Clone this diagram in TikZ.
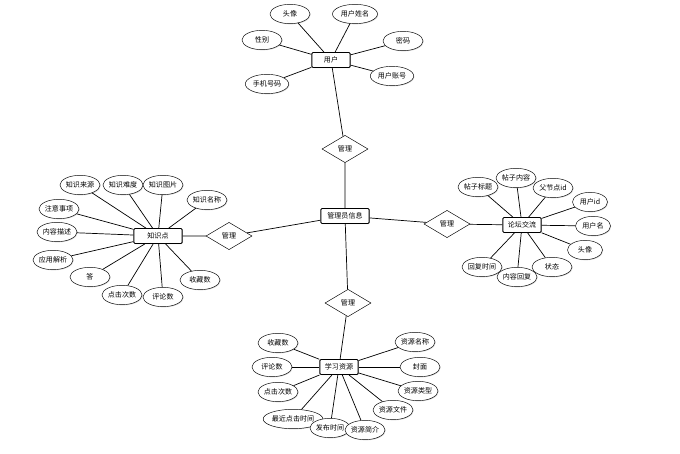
\documentclass[tikz,border=0pt]{standalone}
\usepackage{fontspec}
\newfontfamily\cjk{Noto Sans CJK SC}
\usetikzlibrary{shapes.geometric,shadows}

\begin{document}
\begin{tikzpicture}[x=0.03cm, y=-0.03cm,
    entity/.style={draw, thick, fill=white, rounded corners=1pt, minimum width=1.15cm, minimum height=0.45cm, inner sep=1pt, font=\cjk\fontsize{6}{7}\selectfont, drop shadow={shadow xshift=0.6pt, shadow yshift=-0.6pt, opacity=0.35}},
    attr/.style={draw, ellipse, fill=white, minimum width=1.2cm, minimum height=0.58cm, inner sep=0pt, font=\cjk\fontsize{6}{7}\selectfont, drop shadow={shadow xshift=0.6pt, shadow yshift=-0.6pt, opacity=0.3}},
    rel/.style={draw, diamond, aspect=1.7, fill=white, minimum width=1.38cm, minimum height=0.82cm, inner sep=0pt, font=\cjk\fontsize{6}{7}\selectfont},
    link/.style={draw, semithick}]
                \useasboundingbox (0,0) rectangle (680,454);

                % Entities
                \node[entity] (yh) at (331,60) {用户};
                \node[entity, minimum width=1.45cm] (gly) at (345,216) {管理员信息};
                \node[entity, minimum width=1.45cm] (zsd) at (158,236) {知识点};
                \node[entity] (lt) at (522,225) {论坛交流};
                \node[entity] (xx) at (339,367) {学习资源};

                % Relations
                \node[rel] (r1) at (345,149) {管理};
                \node[rel] (r2) at (229,236) {管理};
                \node[rel] (r3) at (447,224) {管理};
                \node[rel] (r4) at (348,303) {管理};

                \draw[link] (yh) -- (r1) -- (gly);
                \draw[link] (zsd) -- (r2) -- (gly);
                \draw[link] (lt) -- (r3) -- (gly);
                \draw[link] (xx) -- (r4) -- (gly);

                % User attributes
                \node[attr] (yh1) at (290,14) {头像};
                \node[attr, minimum width=1.35cm] (yh2) at (355,14) {用户姓名};
                \node[attr] (yh3) at (262,40) {性别};
                \node[attr] (yh4) at (403,41) {密码};
                \node[attr, minimum width=1.3cm] (yh5) at (267,84) {手机号码};
                \node[attr, minimum width=1.3cm] (yh6) at (392,76) {用户账号};
                \foreach \a in {yh1,yh2,yh3,yh4,yh5,yh6}
                    \draw[link] (\a) -- (yh);

                % Knowledge attributes
                \node[attr] (z1) at (80,185) {知识来源};
                \node[attr] (z2) at (123,185) {知识难度};
                \node[attr] (z3) at (163,185) {知识图片};
                \node[attr] (z4) at (207,200) {知识名称};
                \node[attr] (z5) at (59,209) {注意事项};
                \node[attr] (z6) at (57,232) {内容描述};
                \node[attr] (z7) at (53,260) {应用解析};
                \node[attr] (z8) at (90,277) {答};
                \node[attr] (z9) at (122,295) {点击次数};
                \node[attr] (z10) at (163,297) {评论数};
                \node[attr] (z11) at (200,280) {收藏数};
                \foreach \a in {z1,z2,z3,z4,z5,z6,z7,z8,z9,z10,z11}
                    \draw[link] (\a) -- (zsd);

                % Forum attributes
                \node[attr] (l1) at (478,187) {帖子标题};
                \node[attr] (l2) at (516,178) {帖子内容};
                \node[attr] (l3) at (553,188) {父节点id};
                \node[attr, minimum width=1.05cm] (l4) at (590,202) {用户id};
                \node[attr, minimum width=1.05cm] (l5) at (593,226) {用户名};
                \node[attr, minimum width=1.05cm] (l6) at (585,250) {头像};
                \node[attr] (l7) at (552,267) {状态};
                \node[attr] (l8) at (517,277) {内容回复};
                \node[attr] (l9) at (482,267) {回复时间};
                \foreach \a in {l1,l2,l3,l4,l5,l6,l7,l8,l9}
                    \draw[link] (\a) -- (lt);

                % Resource attributes
                \node[attr] (x1) at (278,343) {收藏数};
                \node[attr] (x2) at (272,367) {评论数};
                \node[attr] (x3) at (278,392) {点击次数};
                \node[attr, minimum width=1.7cm] (x4) at (293,419) {最近点击时间};
                \node[attr] (x5) at (330,428) {发布时间};
                \node[attr] (x6) at (365,430) {资源简介};
                \node[attr] (x7) at (393,410) {资源文件};
                \node[attr] (x8) at (418,391) {资源类型};
                \node[attr] (x9) at (420,367) {封面};
                \node[attr] (x10) at (415,342) {资源名称};
                \foreach \a in {x1,x2,x3,x4,x5,x6,x7,x8,x9,x10}
                    \draw[link] (\a) -- (xx);
            \end{tikzpicture}
\end{document}
